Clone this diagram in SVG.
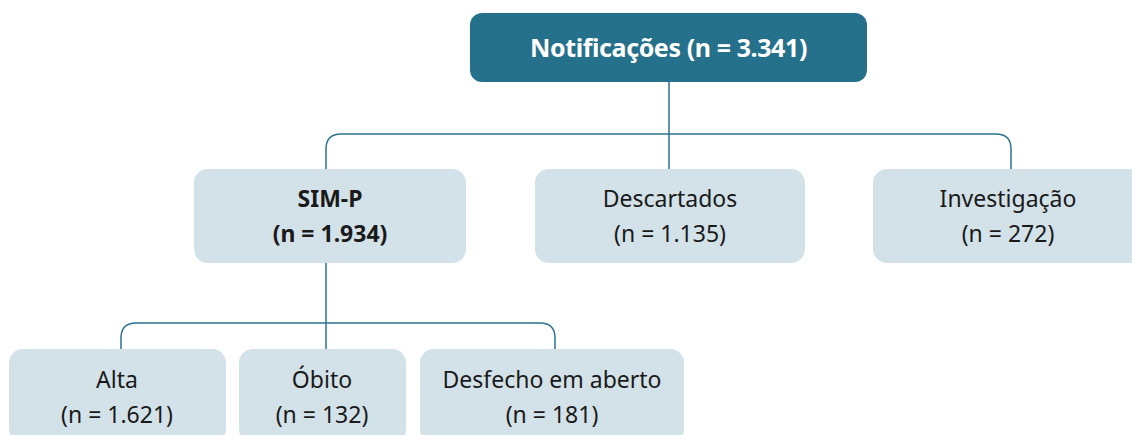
<svg xmlns="http://www.w3.org/2000/svg" width="1132" height="435" viewBox="0 0 1132 435">
<style>
.top{fill:#25708B}
.box{fill:#D3E1E8}
.t{font-family:"Noto Sans","Open Sans","DejaVu Sans",sans-serif;font-size:23px;fill:#1A1A1A;text-anchor:middle}
.b{font-weight:bold}
.tt{font-family:"Noto Sans","Open Sans","DejaVu Sans",sans-serif;font-size:25px;font-weight:bold;letter-spacing:-0.4px;fill:#FFFFFF;text-anchor:middle}
.c{fill:none;stroke:#2B7390;stroke-width:1.5}
</style>
<rect width="1132" height="435" fill="#FFFFFF"/>
<g id="connectors">
<path class="c" d="M669,82 V169"/>
<path class="c" d="M326,169 V149 Q326,134 341,134 H996 Q1011,134 1011,149 V169"/>
<path class="c" d="M326,263 V349"/>
<path class="c" d="M121,349 V338 Q121,323 136,323 H540 Q555,323 555,338 V349"/>
</g>
<g id="notificacoes">
<rect class="top" x="470" y="13" width="397" height="69" rx="12"/>
<text class="tt" x="668.5" y="57">Notificações (n = 3.341)</text>
</g>
<g id="simp">
<rect class="box" x="194" y="169" width="272" height="94" rx="14"/>
<text class="t b" x="330" y="207">SIM-P</text>
<text class="t b" x="330" y="242">(n = 1.934)</text>
</g>
<g id="descartados">
<rect class="box" x="535" y="169" width="270" height="94" rx="14"/>
<text class="t" x="670" y="207">Descartados</text>
<text class="t" x="670" y="242">(n = 1.135)</text>
</g>
<g id="investigacao">
<rect class="box" x="873" y="169" width="270" height="94" rx="14"/>
<text class="t" x="1008" y="207">Investigação</text>
<text class="t" x="1008" y="242">(n = 272)</text>
</g>
<g id="alta">
<rect class="box" x="9" y="349" width="217" height="94" rx="14"/>
<text class="t" x="117" y="388">Alta</text>
<text class="t" x="117" y="423">(n = 1.621)</text>
</g>
<g id="obito">
<rect class="box" x="239" y="349" width="167" height="94" rx="14"/>
<text class="t" x="322" y="388">Óbito</text>
<text class="t" x="322" y="423">(n = 132)</text>
</g>
<g id="desfecho">
<rect class="box" x="420" y="349" width="264" height="94" rx="14"/>
<text class="t" x="552" y="388">Desfecho em aberto</text>
<text class="t" x="552" y="423">(n = 181)</text>
</g>
</svg>
